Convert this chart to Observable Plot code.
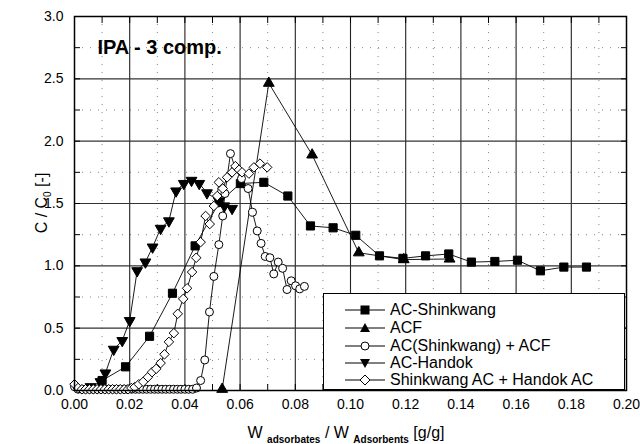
<!DOCTYPE html>
<html><head><meta charset="utf-8">
<script src="https://cdn.jsdelivr.net/npm/d3@7"></script>
<script src="https://cdn.jsdelivr.net/npm/@observablehq/plot@0.6"></script>
<style>
body{margin:0;background:#fff;font-family:"Liberation Sans",Arial,sans-serif;}
#wrap{position:relative;width:640px;height:444px;}
#legend{position:absolute;left:323px;top:293px;width:302px;height:97px;border:1.5px solid #000;background:#fff;box-sizing:border-box;}
.row{position:absolute;left:0;height:18px;display:flex;align-items:center;font-size:16px;color:#000;white-space:nowrap;}
.row svg{margin-left:20px;margin-right:4px;}
</style></head><body>
<div id="wrap"><div id="chart"></div><div id="legend"></div></div>
<script>
// ---- data ----
const seriesNames = ["AC-Shinkwang","ACF","AC(Shinkwang) + ACF","AC-Handok","Shinkwang AC + Handok AC"];

const shinX = [0.010,0.0185,0.0272,0.0355,0.0437,0.0524,0.0601,0.0686,0.0773,0.0855,0.0937,0.1019,0.1105,0.1190,0.1272,0.1356,0.1438,0.1523,0.1605,0.1688,0.1773,0.1855];
const shinY = [0.08,0.19,0.435,0.78,1.16,1.51,1.66,1.67,1.56,1.32,1.305,1.245,1.08,1.06,1.08,1.095,1.03,1.035,1.045,0.96,0.99,0.99];

const acfX = [0.0535,0.0704,0.0861,0.1030,0.1193,0.1359];
const acfY = [0.01,2.465,1.89,1.105,1.05,1.055];

const mixAX = [0.0000,0.0013,0.0027,0.0041,0.0055,0.0068,0.0082,0.0096,0.0110,0.0124,0.0138,0.0151,0.0165,0.0179,0.0193,0.0207,0.0221,0.0234,0.0248,0.0262,0.0276,0.0290,0.0303,0.0317,0.0331,0.0345,0.0359,0.0373,0.0386,0.0400,0.0414,0.0428,0.0442,
  0.0457,0.0472,0.0489,0.0505,0.0523,0.0537,0.0545,0.0565,0.0583,0.0605,0.0629,0.0645,0.0662,0.0676,0.0691,0.0708,0.0722,0.0738,0.0754,0.0770,0.0785,0.0801,0.0816,0.0833];
const mixAY = [0.03,0.01,0.01,0.01,0.01,0.01,0.01,0.01,0.01,0.01,0.01,0.01,0.01,0.01,0.01,0.01,0.01,0.01,0.01,0.01,0.01,0.01,0.01,0.01,0.01,0.01,0.01,0.01,0.01,0.01,0.01,0.01,0.02,
  0.08,0.245,0.63,0.915,1.17,1.40,1.58,1.90,1.78,1.70,1.62,1.43,1.28,1.18,1.075,1.065,0.935,1.03,0.98,0.81,0.88,0.84,0.815,0.835];

const handX = [0.0058,0.0094,0.0112,0.0142,0.0173,0.0200,0.0227,0.0257,0.0283,0.0312,0.0342,0.0368,0.0396,0.0424,0.0452,0.0480,0.0523,0.0543,0.0571];
const handY = [0.03,0.07,0.14,0.33,0.40,0.56,0.96,1.03,1.15,1.30,1.36,1.60,1.66,1.685,1.66,1.585,1.52,1.48,1.46];

const mixBX = [0.0000,0.0013,0.0027,0.0040,0.0054,0.0068,0.0082,0.0096,0.0110,0.0124,0.0138,0.0152,0.0166,0.0180,0.0194,0.0206,
  0.0218,0.0233,0.0249,0.0266,0.0281,0.0296,0.0312,0.0326,0.0342,0.0360,0.0374,0.0394,0.0408,0.0426,0.0441,0.0457,0.0475,0.0490,0.0505,0.0517,0.0523,0.0537,0.0553,0.0571,0.0583,0.0596,0.0607,0.0632,0.0650,0.0672,0.0698];
const mixBY = [0.05,0.02,0.01,0.01,0.01,0.01,0.01,0.01,0.01,0.01,0.01,0.01,0.01,0.01,0.01,0.02,
  0.027,0.05,0.07,0.107,0.147,0.174,0.22,0.29,0.39,0.46,0.615,0.735,0.82,0.95,1.065,1.19,1.40,1.335,1.48,1.56,1.67,1.62,1.71,1.75,1.80,1.77,1.75,1.74,1.79,1.82,1.79];

const xMajor = [0,0.02,0.04,0.06,0.08,0.10,0.12,0.14,0.16,0.18,0.20];
const xMinor = [0.01,0.03,0.05,0.07,0.09,0.11,0.13,0.15,0.17,0.19];
const yMajor = [0,0.5,1.0,1.5,2.0,2.5,3.0];
const yMinor = [0.25,0.75,1.25,1.75,2.25,2.75];
const title = [{x:0.0083, y:2.75, text:"IPA - 3 comp."}];

// ---- build ----
const zip = (xs, ys) => xs.map((x,i)=>({x, y:ys[i]}));
const S = [zip(shinX,shinY), zip(acfX,acfY), zip(mixAX,mixAY), zip(handX,handY), zip(mixBX,mixBY)];
const symbols = [
  {symbol:"square", r:4.6, fill:"#000", rotate:0},
  {symbol:"triangle", r:4, fill:"#000", rotate:0},
  {symbol:"circle", r:4, fill:"#fff", rotate:0},
  {symbol:"triangle", r:4, fill:"#000", rotate:180},
  {symbol:"diamond2", r:4.3, fill:"#fff", rotate:0}
];
const xAll = [...xMajor, ...xMinor];
const yAll = [...yMajor, ...yMinor];

const marks = [
  Plot.ruleX(xMinor, {stroke:"#888", strokeDasharray:"1,7", strokeWidth:1}),
  Plot.ruleY(yMinor, {stroke:"#888", strokeDasharray:"1,7", strokeWidth:1}),
  Plot.ruleX(xMajor.slice(1,-1), {stroke:"#222", strokeWidth:1.1}),
  Plot.ruleY(yMajor.slice(1,-1), {stroke:"#333", strokeWidth:1.1}),
  Plot.axisX(xMajor, {anchor:"bottom", tickSize:0, tickPadding:9, tickFormat:d3.format(".2f"), label:null, fontSize:14}),
  Plot.axisY(yMajor, {anchor:"left", tickSize:0, tickPadding:11, tickFormat:d3.format(".1f"), label:null, fontSize:14}),
  Plot.axisX(xAll, {anchor:"bottom", tickSize:-6, tickFormat:()=>"", label:null}),
  Plot.axisX(xAll, {anchor:"top", tickSize:-6, tickFormat:()=>"", label:null}),
  Plot.axisY(yAll, {anchor:"left", tickSize:-6, tickFormat:()=>"", label:null}),
  Plot.axisY(yAll, {anchor:"right", tickSize:-6, tickFormat:()=>"", label:null})
];
S.forEach((d,i)=>{
  marks.push(Plot.line(d, {x:"x", y:"y", stroke:"#000", strokeWidth:0.9}));
});
S.forEach((d,i)=>{
  const s = symbols[i];
  marks.push(Plot.dot(d, {x:"x", y:"y", symbol:s.symbol, r:s.r, fill:s.fill, stroke:"#000", strokeWidth:1, rotate:s.rotate}));
});
marks.push(Plot.text(title, {x:"x", y:"y", text:"text", textAnchor:"start", fontSize:20, fontWeight:"bold", fill:"#000"}));
marks.push(Plot.frame({stroke:"#000", strokeWidth:1.5}));

const chart = Plot.plot({
  width:640, height:444,
  marginTop:16, marginRight:14, marginBottom:54, marginLeft:74,
  x:{domain:[0,0.2]}, y:{domain:[0,3]},
  style:{fontFamily:"Liberation Sans, Arial, sans-serif", fontSize:"14px", color:"#000", background:"#fff"},
  marks
});
document.getElementById("chart").appendChild(chart);

// axis titles with subscripts
const svg = d3.select(chart);
const yl = svg.append("text")
  .attr("transform","translate(47,203) rotate(-90)")
  .attr("text-anchor","middle")
  .attr("font-size",16).attr("fill","#000");
yl.append("tspan").text("C / C");
yl.append("tspan").attr("font-size",10).attr("dy",4).text("0");
yl.append("tspan").attr("dy",-4).text(" [-]");

const xl = svg.append("text")
  .attr("x",346).attr("y",438)
  .attr("text-anchor","middle")
  .attr("font-size",16).attr("fill","#000");
xl.append("tspan").text("W ");
xl.append("tspan").attr("font-size",10).attr("font-weight","bold").attr("dy",5).text("adsorbates");
xl.append("tspan").attr("dy",-5).text(" / W ");
xl.append("tspan").attr("font-size",10).attr("font-weight","bold").attr("dy",5).text("Adsorbents");
xl.append("tspan").attr("dy",-5).text(" [g/g]");

// legend
const leg = document.getElementById("legend");
const rowTops = [7,25,43,60,77];
const symSvg = (i) => {
  const s = symbols[i];
  let shape = "";
  const cx = 21, cy = 9;
  if (s.symbol==="square") shape = `<rect x="${cx-4.5}" y="${cy-4.5}" width="9" height="9" fill="#000"/>`;
  else if (s.symbol==="circle") shape = `<circle cx="${cx}" cy="${cy}" r="4" fill="#fff" stroke="#000"/>`;
  else if (s.symbol==="diamond2") shape = `<path d="M${cx},${cy-5}L${cx+5},${cy}L${cx},${cy+5}L${cx-5},${cy}Z" fill="#fff" stroke="#000"/>`;
  else if (s.rotate===180) shape = `<path d="M${cx-5},${cy-4}L${cx+5},${cy-4}L${cx},${cy+5}Z" fill="#000"/>`;
  else shape = `<path d="M${cx-5},${cy+4}L${cx+5},${cy+4}L${cx},${cy-5}Z" fill="#000"/>`;
  return `<svg width="42" height="18"><line x1="1" y1="9" x2="41" y2="9" stroke="#000" stroke-width="1"/>${shape}</svg>`;
};
seriesNames.forEach((n,i)=>{
  const r = document.createElement("div");
  r.className = "row";
  r.style.top = rowTops[i] + "px";
  r.innerHTML = symSvg(i) + `<span>${n}</span>`;
  leg.appendChild(r);
});
</script>
</body></html>
